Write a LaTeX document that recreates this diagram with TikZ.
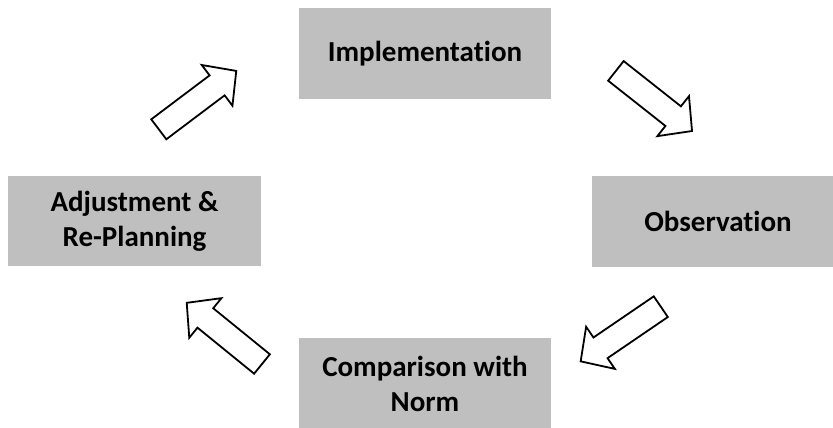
\documentclass[tikz,border=0pt]{standalone}
\usepackage{fontspec}
\setmainfont{Carlito}[Ligatures=CommonOff]
\begin{document}
\begin{tikzpicture}[x=1pt,y=1pt,
  stagebox/.style={rectangle, fill=boxgrey, draw=none, inner sep=0pt,
    minimum width=252pt, minimum height=91pt, align=center,
    font=\bfseries\fontsize{29}{35}\selectfont},
  arrowline/.style={draw=black, fill=white, line width=1.8pt, line join=miter},
  blockarrow/.pic={
    \path[arrowline] (0,-12.5) -- (73,-12.5) -- (73,-25.5) -- (97,0)
      -- (73,25.5) -- (73,12.5) -- (0,12.5) -- cycle;
  }]
\definecolor{boxgrey}{RGB}{191,191,191}
\useasboundingbox (0,0) rectangle (833,428);
\clip (0,0) rectangle (833,428);

% the four stages of the control cycle
\node[stagebox] (impl) at (425,374.5) {Implementation};
\node[stagebox] (obs)  at (718,206.5) {Observation};
\node[stagebox] (comp) at (425,44.5)  {Comparison with\\Norm};
\node[stagebox, minimum width=253pt, minimum height=90pt] (adj) at (134.5,207) {Adjustment \&\\Re-Planning};

% hollow block arrows between the stages
\pic (toimpl) [rotate=37]    at (158.8,298.7) {blockarrow};
\pic (toobs)  [rotate=-38.3] at (615.9,357.1) {blockarrow};
\pic (tocomp) [rotate=214.3] at (660.8,121.3) {blockarrow};
\pic (toadj)  [rotate=140.9] at (262,64)      {blockarrow};
\end{tikzpicture}
\end{document}
